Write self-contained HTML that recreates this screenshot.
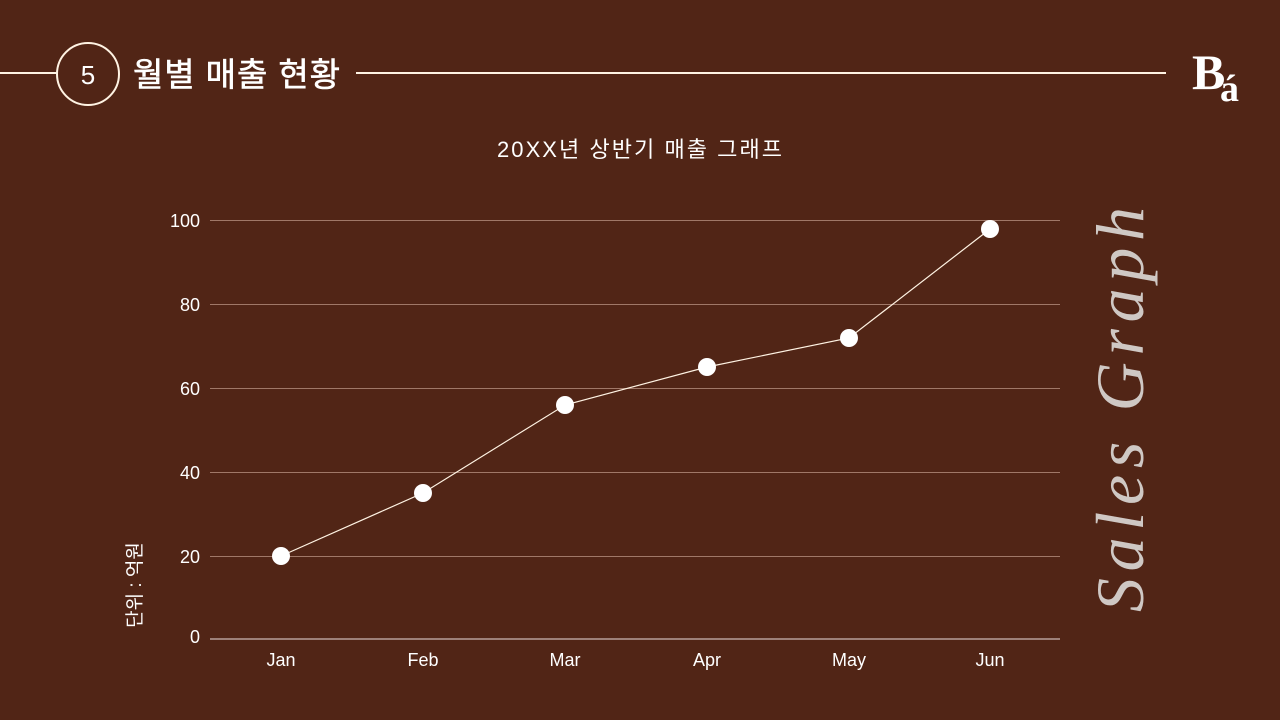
<!DOCTYPE html>
<html><head><meta charset="utf-8"><style>
body{margin:0;width:1280px;height:720px;background:#512516;overflow:hidden;font-family:"Liberation Sans","Noto Sans CJK KR",sans-serif;}
</style></head><body>
<svg width="1280" height="720" xmlns="http://www.w3.org/2000/svg" style="position:absolute;left:0;top:0">
<rect width="1280" height="720" fill="#512516"/>
<line x1="0" y1="73" x2="57" y2="73" stroke="#fff3e3" stroke-width="2"/>
<circle cx="88" cy="74" r="31" fill="none" stroke="#fff3e3" stroke-width="2"/>
<text x="88" y="84" text-anchor="middle" font-size="26" fill="#fff" font-family="Liberation Sans, sans-serif">5</text>
<text x="133" y="86" font-size="33" fill="#fff" stroke="#fff" stroke-width="0.6" font-family="Liberation Sans, Noto Sans CJK KR, sans-serif" textLength="207" lengthAdjust="spacing">월별 매출 현황</text>
<line x1="356" y1="73" x2="1166" y2="73" stroke="#fff3e3" stroke-width="2"/>
<text x="1192" y="89" font-size="50" font-weight="bold" fill="#fff" font-family="Liberation Serif, serif">B</text>
<text x="1220" y="101" font-size="38" font-weight="bold" fill="#fff" font-family="Liberation Serif, serif">á</text>
<text x="497" y="157" font-size="22" fill="#fff" font-family="Liberation Sans, Noto Sans CJK KR, sans-serif" textLength="285" lengthAdjust="spacing">20XX년 상반기 매출 그래프</text>
<g stroke="#a07868" stroke-width="1">
<line x1="210" y1="220.5" x2="1060" y2="220.5"/>
<line x1="210" y1="304.5" x2="1060" y2="304.5"/>
<line x1="210" y1="388.5" x2="1060" y2="388.5"/>
<line x1="210" y1="472.5" x2="1060" y2="472.5"/>
<line x1="210" y1="556.5" x2="1060" y2="556.5"/>
</g>
<line x1="210" y1="639" x2="1060" y2="639" stroke="#b8a09a" stroke-width="1.5"/>
<g font-size="18" fill="#fff" text-anchor="end" font-family="Liberation Sans, sans-serif">
<text x="200" y="227">100</text><text x="200" y="311">80</text><text x="200" y="395">60</text>
<text x="200" y="479">40</text><text x="200" y="563">20</text><text x="200" y="643">0</text>
</g>
<g font-size="18" fill="#fff" text-anchor="middle" font-family="Liberation Sans, sans-serif">
<text x="281" y="666">Jan</text><text x="423" y="666">Feb</text><text x="565" y="666">Mar</text>
<text x="707" y="666">Apr</text><text x="849" y="666">May</text><text x="990" y="666">Jun</text>
</g>
<text transform="translate(141,585) rotate(-90)" text-anchor="middle" font-size="19" fill="#fff" font-family="Liberation Sans, Noto Sans CJK KR, sans-serif">단위 : 억원</text>
<polyline points="281,556 423,493 565,405 707,367 849,338 990,229" fill="none" stroke="#fff3e3" stroke-width="1.2"/>
<g fill="#fff">
<circle cx="281" cy="556" r="9"/><circle cx="423" cy="493" r="9"/><circle cx="565" cy="405" r="9"/>
<circle cx="707" cy="367" r="9"/><circle cx="849" cy="338" r="9"/><circle cx="990" cy="229" r="9"/>
</g>
<text transform="translate(1143,612) rotate(-90)" font-size="68" font-style="italic" fill="#cfc8c4" font-family="Liberation Serif, serif" textLength="405" lengthAdjust="spacing">Sales Graph</text>
</svg>
</body></html>
